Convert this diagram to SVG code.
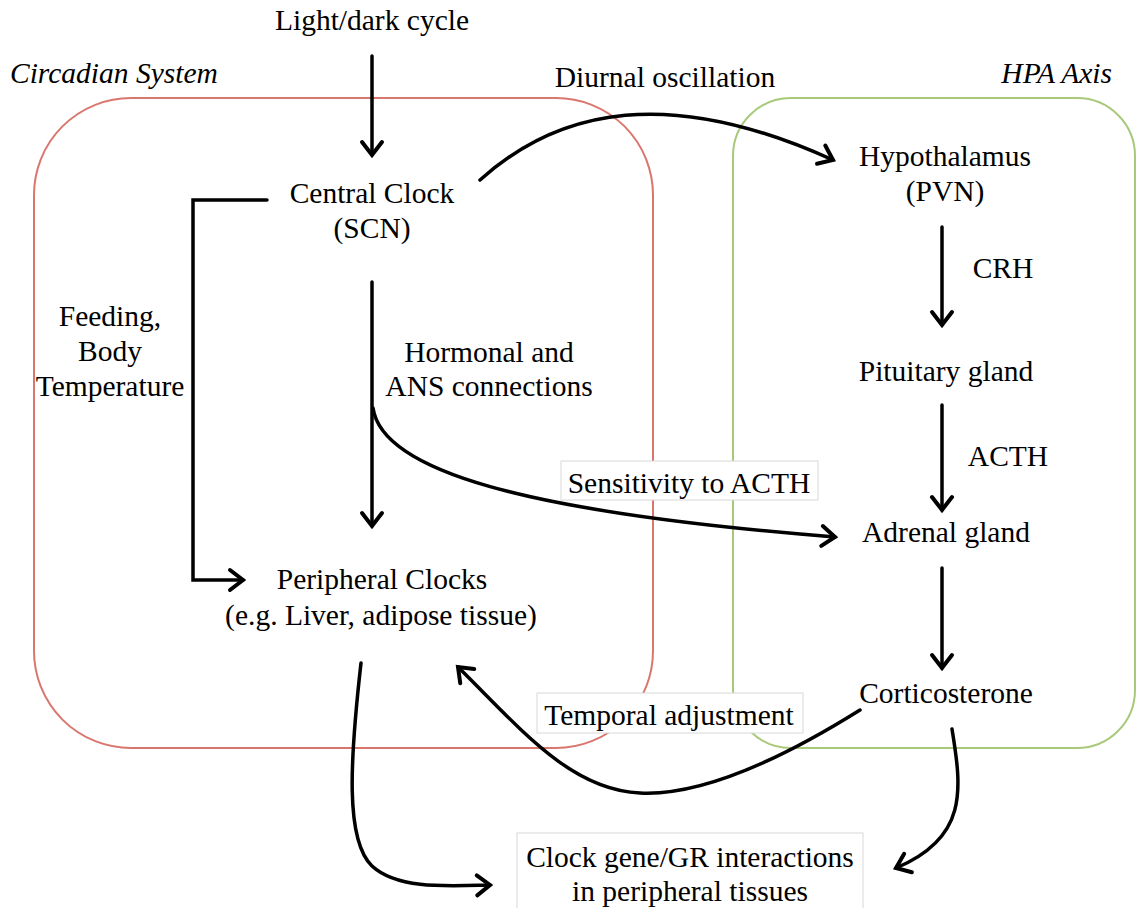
<svg xmlns="http://www.w3.org/2000/svg" width="1136" height="908" viewBox="0 0 1136 908">
<style>
text{font-family:"Liberation Serif","Times New Roman",serif;font-size:29.5px;fill:#000;text-anchor:middle}
.it{font-style:italic}
.c{fill:none;stroke:#000;stroke-width:3.5;stroke-linecap:round}
.lb{fill:#fff;stroke:#d8d8d8;stroke-width:1}
</style>
<defs>
<marker id="ah" markerUnits="userSpaceOnUse" markerWidth="40" markerHeight="40" viewBox="-20 -20 40 40" refX="0" refY="0" orient="auto">
<path d="M-13,-10 L0,0 L-13,10" fill="none" stroke="#000" stroke-width="4" stroke-linecap="round" stroke-linejoin="miter"/>
</marker>
</defs>
<g id="circadian-system">
<rect x="34" y="98" width="619" height="650" rx="97" ry="97" fill="none" stroke="#d9776f" stroke-width="2"/>
<text class="it" x="10" y="83" style="text-anchor:start">Circadian System</text>
</g>
<g id="hpa-axis">
<rect x="733" y="98" width="402" height="650" rx="58" ry="58" fill="none" stroke="#a9c97a" stroke-width="2"/>
<text class="it" x="1112" y="83" style="text-anchor:end">HPA Axis</text>
</g>
<g id="connectors">
<path class="c" d="M372,56 L372,155" marker-end="url(#ah)"/>
<path class="c" d="M480,180 C560,108 670,86 833,160" marker-end="url(#ah)"/>
<path class="c" d="M267,200 L193,200 L193,580 L243,580" marker-end="url(#ah)"/>
<path class="c" d="M372,282 L372,526" marker-end="url(#ah)"/>
<path class="c" d="M373,408 C382,470 520,512 835,537" marker-end="url(#ah)"/>
<path class="c" d="M942,227 L942,325" marker-end="url(#ah)"/>
<path class="c" d="M942,405 L942,510" marker-end="url(#ah)"/>
<path class="c" d="M942,568 L942,668" marker-end="url(#ah)"/>
<path class="c" d="M860,710 C780,760 700,796 640,793 C570,790 520,728 458,667" marker-end="url(#ah)"/>
<path class="c" d="M361,663 C350,760 345,840 372,866 C398,890 450,886 490,885" marker-end="url(#ah)"/>
<path class="c" d="M952,729 C962,790 968,838 896,868" marker-end="url(#ah)"/>
</g>
<g id="light-dark"><text x="372" y="30">Light/dark cycle</text></g>
<g id="diurnal"><text x="665" y="87">Diurnal oscillation</text></g>
<g id="central-clock"><text x="372" y="203">Central Clock</text><text x="372" y="238">(SCN)</text></g>
<g id="feeding"><text x="110" y="326">Feeding,</text><text x="110" y="361">Body</text><text x="110" y="396">Temperature</text></g>
<g id="hormonal"><text x="489" y="362">Hormonal and</text><text x="489" y="396">ANS connections</text></g>
<g id="sensitivity"><rect class="lb" x="561" y="461" width="257" height="39"/><text x="689" y="493">Sensitivity to ACTH</text></g>
<g id="peripheral"><text x="382" y="589">Peripheral Clocks</text><text x="381" y="625">(e.g. Liver, adipose tissue)</text></g>
<g id="temporal"><rect class="lb" x="537" y="693" width="266" height="40"/><text x="669" y="725">Temporal adjustment</text></g>
<g id="clockgene"><rect class="lb" x="517" y="833" width="346" height="80"/><text x="690" y="867">Clock gene/GR interactions</text><text x="690" y="901">in peripheral tissues</text></g>
<g id="hypothalamus"><text x="945" y="166">Hypothalamus</text><text x="945" y="201">(PVN)</text></g>
<g id="crh"><text x="1003" y="278">CRH</text></g>
<g id="pituitary"><text x="946" y="381">Pituitary gland</text></g>
<g id="acth"><text x="1008" y="466">ACTH</text></g>
<g id="adrenal"><text x="946" y="542">Adrenal gland</text></g>
<g id="corticosterone"><text x="946" y="703">Corticosterone</text></g>
</svg>
